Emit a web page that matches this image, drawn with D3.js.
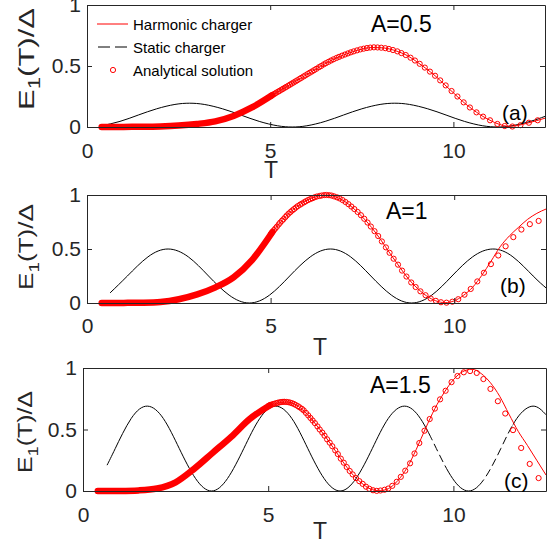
<!DOCTYPE html>
<html>
<head>
<meta charset="utf-8">
<script src="https://cdn.jsdelivr.net/npm/d3@7"></script>
<style>
  body { margin: 0; background: #fff; }
  svg text { font-family: "Liberation Sans", Arial, Helvetica, sans-serif; }
</style>
</head>
<body>
<script>
// ---- data ----
const xTicks = [0, 5, 10];
const yTicks = [0, 0.5, 1];
const ampLabels = ["A=0.5", "A=1", "A=1.5"];
const panelLabels = ["(a)", "(b)", "(c)"];
const legendLabels = ["Harmonic charger", "Static charger", "Analytical solution"];

// static charger (black)
const staticTa = [0.4, 0.9, 1.4, 1.9, 2.4, 2.8, 3.2, 3.7, 4.2, 4.7, 5.2, 5.6, 6.0, 6.5, 7.0, 7.5, 8.0, 8.4, 8.8, 9.3, 9.8, 10.3, 10.8, 11.2, 11.6, 12.1, 12.5];
const staticEa = [0.01, 0.046, 0.098, 0.149, 0.185, 0.195, 0.185, 0.149, 0.098, 0.046, 0.01, 0, 0.01, 0.046, 0.098, 0.149, 0.185, 0.195, 0.185, 0.149, 0.098, 0.046, 0.01, 0, 0.01, 0.046, 0.087];
const staticTb = [0.63, 1.1, 1.66, 2.21, 2.76, 3.31, 3.87, 4.42, 4.97, 5.52, 6.08, 6.63, 7.18, 7.73, 8.29, 8.84, 9.39, 9.94, 10.5, 11.05, 11.6, 12.15, 12.5];
const staticEb = [0.094, 0.25, 0.427, 0.5, 0.427, 0.25, 0.073, 0, 0.073, 0.25, 0.427, 0.5, 0.427, 0.25, 0.073, 0, 0.073, 0.25, 0.427, 0.5, 0.427, 0.25, 0.14];
const staticTc = [0.65, 0.87, 1.3, 1.74, 2.17, 2.6, 3.04, 3.47, 3.9, 4.34, 4.77, 5.2, 5.64, 6.07, 6.51, 6.94, 7.37, 7.81, 8.24, 8.68, 9.11, 9.54, 9.98, 10.41, 10.84, 11.28, 11.71, 12.15, 12.5];
const staticEc = [0.21, 0.345, 0.589, 0.69, 0.589, 0.345, 0.101, 0, 0.101, 0.345, 0.589, 0.69, 0.589, 0.345, 0.101, 0, 0.101, 0.345, 0.589, 0.69, 0.589, 0.345, 0.101, 0, 0.101, 0.345, 0.589, 0.69, 0.62];
// stretches where the dashes of the static line show up in (c)
const staticDashC = [[9.4, 9.8], [10.7, 11.6]];

// harmonic charger (red line)
const harmonicT = [0.4, 0.75, 1, 1.25, 1.5, 1.75, 2, 2.25, 2.5, 2.75, 3, 3.25, 3.5, 3.75, 4, 4.25, 4.5, 4.75, 5, 5.25, 5.5, 5.75, 6, 6.25, 6.5, 6.75, 7, 7.25, 7.5, 7.75, 8, 8.25, 8.5, 8.75, 9, 9.25, 9.5, 9.75, 10, 10.25, 10.5, 10.75, 11, 11.25, 11.5, 11.75, 12, 12.25, 12.5];
const harmonicA = [0, 0.0005, 0.001, 0.0015, 0.002, 0.003, 0.005, 0.008, 0.012, 0.018, 0.025, 0.034, 0.046, 0.064, 0.09, 0.12, 0.16, 0.205, 0.25, 0.295, 0.34, 0.385, 0.43, 0.475, 0.52, 0.558, 0.59, 0.617, 0.638, 0.651, 0.65, 0.64, 0.617, 0.584, 0.535, 0.48, 0.42, 0.35, 0.28, 0.21, 0.15, 0.097, 0.055, 0.022, 0.006, 0.012, 0.03, 0.05, 0.072];
const harmonicB = [0, 0.0005, 0.001, 0.002, 0.003, 0.006, 0.01, 0.02, 0.035, 0.055, 0.08, 0.11, 0.145, 0.19, 0.24, 0.30, 0.40, 0.52, 0.635, 0.74, 0.83, 0.90, 0.953, 0.985, 1.0, 0.985, 0.945, 0.878, 0.797, 0.70, 0.585, 0.46, 0.34, 0.225, 0.135, 0.065, 0.02, 0.003, 0.02, 0.07, 0.145, 0.255, 0.385, 0.52, 0.62, 0.70, 0.775, 0.83, 0.87];
const harmonicC = [0, 0.0005, 0.001, 0.003, 0.005, 0.01, 0.02, 0.04, 0.07, 0.12, 0.18, 0.245, 0.31, 0.375, 0.44, 0.51, 0.585, 0.645, 0.69, 0.715, 0.724, 0.70, 0.64, 0.555, 0.46, 0.355, 0.245, 0.145, 0.07, 0.018, 0.002, 0.02, 0.085, 0.19, 0.34, 0.51, 0.67, 0.80, 0.905, 0.97, 0.99, 0.955, 0.88, 0.77, 0.625, 0.485, 0.37, 0.25, 0.13];

// analytical solution: early part where the markers merge into a solid band
const bandT = [0.4, 1, 1.5, 2, 2.5, 3, 3.5, 4, 4.5, 5.05];
const bandA = [0, 0.001, 0.002, 0.005, 0.012, 0.025, 0.046, 0.09, 0.16, 0.26];
const bandB = [0, 0.001, 0.003, 0.01, 0.035, 0.08, 0.145, 0.24, 0.40, 0.657];
const bandC = [0, 0.001, 0.005, 0.02, 0.07, 0.18, 0.31, 0.44, 0.585, 0.697];

// analytical solution: individual markers
const analyticT = [5.01, 5.05, 5.09, 5.13, 5.17, 5.22, 5.26, 5.31, 5.35, 5.40,
  5.44, 5.49, 5.54, 5.59, 5.64, 5.69, 5.74, 5.80, 5.85, 5.91,
  5.96, 6.02, 6.08, 6.14, 6.20, 6.26, 6.33, 6.39, 6.46, 6.52,
  6.59, 6.66, 6.73, 6.81, 6.88, 6.96, 7.04, 7.12, 7.20, 7.28,
  7.37, 7.46, 7.55, 7.64, 7.73, 7.83, 7.93, 8.03, 8.14, 8.24,
  8.35, 8.47, 8.58, 8.70, 8.83, 8.95, 9.08, 9.22, 9.36, 9.50,
  9.64, 9.79, 9.95, 10.11, 10.28, 10.45, 10.63, 10.81, 11.00, 11.20,
  11.40, 11.61, 11.83, 12.06, 12.30];
const analyticA = [0.252, 0.26, 0.267, 0.274, 0.282, 0.29, 0.297, 0.306, 0.313, 0.322,
  0.329, 0.338, 0.347, 0.356, 0.365, 0.374, 0.383, 0.394, 0.403, 0.414,
  0.423, 0.434, 0.445, 0.455, 0.466, 0.477, 0.49, 0.50, 0.513, 0.523,
  0.534, 0.545, 0.555, 0.566, 0.575, 0.585, 0.594, 0.603, 0.612, 0.62,
  0.628, 0.636, 0.642, 0.647, 0.651, 0.653, 0.652, 0.65, 0.646, 0.64,
  0.631, 0.62, 0.606, 0.59, 0.568, 0.545, 0.518, 0.487, 0.454, 0.42,
  0.382, 0.341, 0.295, 0.25, 0.202, 0.16, 0.12, 0.085, 0.055, 0.025,
  0.008, 0.004, 0.015, 0.035, 0.055];
const analyticB = [0.64, 0.657, 0.674, 0.69, 0.706, 0.727, 0.744, 0.762, 0.776, 0.795,
  0.81, 0.827, 0.842, 0.857, 0.87, 0.884, 0.897, 0.91, 0.92, 0.932,
  0.942, 0.953, 0.962, 0.97, 0.979, 0.986, 0.991, 0.995, 0.999, 1.0,
  0.998, 0.995, 0.987, 0.978, 0.968, 0.953, 0.935, 0.915, 0.893, 0.87,
  0.843, 0.813, 0.78, 0.745, 0.708, 0.665, 0.62, 0.57, 0.515, 0.465,
  0.41, 0.355, 0.30, 0.245, 0.19, 0.148, 0.108, 0.072, 0.042, 0.02,
  0.007, 0.003, 0.012, 0.035, 0.077, 0.13, 0.2, 0.28, 0.36, 0.44,
  0.525, 0.61, 0.68, 0.73, 0.76];
const analyticC = [0.692, 0.697, 0.702, 0.706, 0.71, 0.714, 0.718, 0.721, 0.723, 0.725,
  0.725, 0.724, 0.722, 0.719, 0.714, 0.708, 0.70, 0.69, 0.68, 0.668,
  0.655, 0.635, 0.615, 0.594, 0.573, 0.552, 0.525, 0.50, 0.475, 0.45,
  0.42, 0.393, 0.364, 0.33, 0.30, 0.263, 0.23, 0.195, 0.163, 0.135,
  0.105, 0.08, 0.058, 0.035, 0.018, 0.006, 0.001, 0.004, 0.01, 0.02,
  0.042, 0.075, 0.115, 0.165, 0.225, 0.305, 0.39, 0.49, 0.585, 0.67,
  0.745, 0.815, 0.885, 0.935, 0.965, 0.975, 0.96, 0.91, 0.83, 0.73,
  0.63, 0.495, 0.35, 0.22, 0.105];

// ---- layout ----
const AX = "#262626";
const RED = "#ff0000";
const FONT = '"Liberation Sans", Arial, Helvetica, sans-serif';

const panels = [
  { box: {left: 87, right: 545, top: 5, bottom: 127}, xPad: 16,
    staticT: staticTa, staticE: staticEa, harmonic: harmonicA, band: bandA, analytic: analyticA, dashes: [],
    amp: {x: 371, y: 32}, tag: {x: 502, y: 120}, tLabel: {x: 271, y: 178},
    yLabel: {x: 34, y: 59, size: 22, len: 102} },
  { box: {left: 87, right: 546, top: 195, bottom: 303}, xPad: 15,
    staticT: staticTb, staticE: staticEb, harmonic: harmonicB, band: bandB, analytic: analyticB, dashes: [],
    amp: {x: 386, y: 219}, tag: {x: 500, y: 293}, tLabel: {x: 320, y: 355},
    yLabel: {x: 33, y: 247, size: 20, len: 86} },
  { box: {left: 83, right: 546, top: 368, bottom: 491}, xPad: 16,
    staticT: staticTc, staticE: staticEc, harmonic: harmonicC, band: bandC, analytic: analyticC, dashes: staticDashC,
    amp: {x: 370, y: 393}, tag: {x: 504, y: 488}, tLabel: {x: 320, y: 539},
    yLabel: {x: 32, y: 432, size: 20, len: 82} }
];

const svg = d3.select("body").append("svg")
    .attr("width", 555)
    .attr("height", 545);
const defs = svg.append("defs");

const tickText = d => String(d);

const styleAxis = g => g
    .attr("color", AX)
    .attr("font-size", 21)
    .attr("font-family", FONT)
  .call(s => s.select(".domain").attr("stroke-width", 1));

panels.forEach((p, i) => {
  const b = p.box;
  const x = d3.scaleLinear().domain([0, 12.5]).range([b.left, b.right]);
  const y = d3.scaleLinear().domain([0, 1]).range([b.bottom, b.top]);
  const g = svg.append("g");

  defs.append("clipPath").attr("id", "plot" + i)
    .append("rect")
      .attr("x", b.left).attr("y", b.top - 4)
      .attr("width", b.right - b.left).attr("height", b.bottom - b.top + 8);

  const plot = g.append("g").attr("clip-path", `url(#plot${i})`);

  // static charger
  const staticLine = d3.line()
      .x(d => x(d[0])).y(d => y(d[1]))
      .curve(d3.curveNatural);
  const staticData = d3.zip(p.staticT, p.staticE);

  if (p.dashes.length) {
    // solid outside the dashed stretches, dashed inside them
    const edges = [0, ...p.dashes.flat(), 12.5];
    const solidClip = defs.append("clipPath").attr("id", "solid" + i);
    for (let k = 0; k < edges.length; k += 2) {
      solidClip.append("rect")
        .attr("x", x(edges[k])).attr("y", b.top - 4)
        .attr("width", x(edges[k + 1]) - x(edges[k])).attr("height", b.bottom - b.top + 8);
    }
    const dashClip = defs.append("clipPath").attr("id", "dash" + i);
    p.dashes.forEach(r => dashClip.append("rect")
        .attr("x", x(r[0])).attr("y", b.top - 4)
        .attr("width", x(r[1]) - x(r[0])).attr("height", b.bottom - b.top + 8));

    plot.append("g").attr("clip-path", `url(#solid${i})`)
      .append("path").datum(staticData)
        .attr("d", staticLine)
        .attr("fill", "none").attr("stroke", "#000").attr("stroke-width", 1);
    plot.append("g").attr("clip-path", `url(#dash${i})`)
      .append("path").datum(staticData)
        .attr("d", staticLine)
        .attr("fill", "none").attr("stroke", "#000").attr("stroke-width", 1)
        .attr("stroke-dasharray", "8,4");
  } else {
    plot.append("path").datum(staticData)
        .attr("d", staticLine)
        .attr("fill", "none").attr("stroke", "#000").attr("stroke-width", 1);
  }

  // harmonic charger
  const redLine = d3.line()
      .x(d => x(d[0])).y(d => y(d[1]))
      .curve(d3.curveMonotoneX);
  plot.append("path").datum(d3.zip(harmonicT, p.harmonic))
      .attr("d", redLine)
      .attr("fill", "none").attr("stroke", RED).attr("stroke-width", 1);

  // analytical solution: dense band + markers
  g.append("path").datum(d3.zip(bandT, p.band))
      .attr("d", redLine)
      .attr("fill", "none").attr("stroke", RED)
      .attr("stroke-width", 6.5)
      .attr("stroke-linecap", "round").attr("stroke-linejoin", "round");

  g.append("g").selectAll("circle")
    .data(d3.zip(analyticT, p.analytic))
    .join("circle")
      .attr("cx", d => x(d[0]))
      .attr("cy", d => y(d[1]))
      .attr("r", 2.6)
      .attr("fill", "none")
      .attr("stroke", RED)
      .attr("stroke-width", 1);

  // axes (box with inward ticks)
  g.append("g")
      .attr("transform", `translate(0,${b.bottom})`)
      .call(d3.axisBottom(x).tickValues(xTicks).tickFormat(tickText)
        .tickSizeInner(-5).tickSizeOuter(0).tickPadding(p.xPad))
      .call(styleAxis);
  g.append("g")
      .attr("transform", `translate(0,${b.top})`)
      .call(d3.axisTop(x).tickValues(xTicks).tickSizeInner(-5).tickSizeOuter(0).tickFormat(""))
      .call(styleAxis);
  g.append("g")
      .attr("transform", `translate(${b.left},0)`)
      .call(d3.axisLeft(y).tickValues(yTicks).tickFormat(tickText)
        .tickSizeInner(-5).tickSizeOuter(0).tickPadding(6))
      .call(styleAxis);
  g.append("g")
      .attr("transform", `translate(${b.right},0)`)
      .call(d3.axisRight(y).tickValues(yTicks).tickSizeInner(-5).tickSizeOuter(0).tickFormat(""))
      .call(styleAxis);

  // labels
  g.append("text")
      .attr("x", p.tLabel.x).attr("y", p.tLabel.y)
      .attr("text-anchor", "middle")
      .attr("fill", AX)
      .style("font-size", "23px")
      .text("T");

  const yl = g.append("text")
      .attr("transform", `translate(${p.yLabel.x},${p.yLabel.y}) rotate(-90)`)
      .attr("text-anchor", "middle")
      .attr("fill", AX)
      .attr("textLength", p.yLabel.len)
      .attr("lengthAdjust", "spacingAndGlyphs")
      .style("font-size", p.yLabel.size + "px");
  yl.append("tspan").text("E");
  yl.append("tspan").attr("dy", 6).style("font-size", (p.yLabel.size * 0.72) + "px").text("1");
  yl.append("tspan").attr("dy", -6).text("(T)/Δ");

  g.append("text")
      .attr("x", p.amp.x).attr("y", p.amp.y)
      .attr("fill", "#000")
      .style("font-size", "23px")
      .text(ampLabels[i]);

  g.append("text")
      .attr("x", p.tag.x).attr("y", p.tag.y)
      .attr("fill", "#000")
      .style("font-size", "21px")
      .text(panelLabels[i]);
});

// legend (panel a)
const legend = svg.append("g").style("font-size", "15px");
const rowY = [24, 47, 70];
legend.append("line")
    .attr("x1", 97).attr("x2", 128).attr("y1", rowY[0]).attr("y2", rowY[0])
    .attr("stroke", RED).attr("stroke-width", 1);
legend.append("line")
    .attr("x1", 98).attr("x2", 128).attr("y1", rowY[1]).attr("y2", rowY[1])
    .attr("stroke", "#000").attr("stroke-width", 1)
    .attr("stroke-dasharray", "12,5");
legend.append("circle")
    .attr("cx", 113).attr("cy", rowY[2]).attr("r", 2.6)
    .attr("fill", "none").attr("stroke", RED).attr("stroke-width", 1);
legend.selectAll(".legend-text")
  .data(legendLabels)
  .join("text")
    .attr("class", "legend-text")
    .attr("x", 133)
    .attr("y", (d, i) => rowY[i] + 5.5)
    .attr("fill", "#000")
    .text(d => d);
</script>
</body>
</html>
